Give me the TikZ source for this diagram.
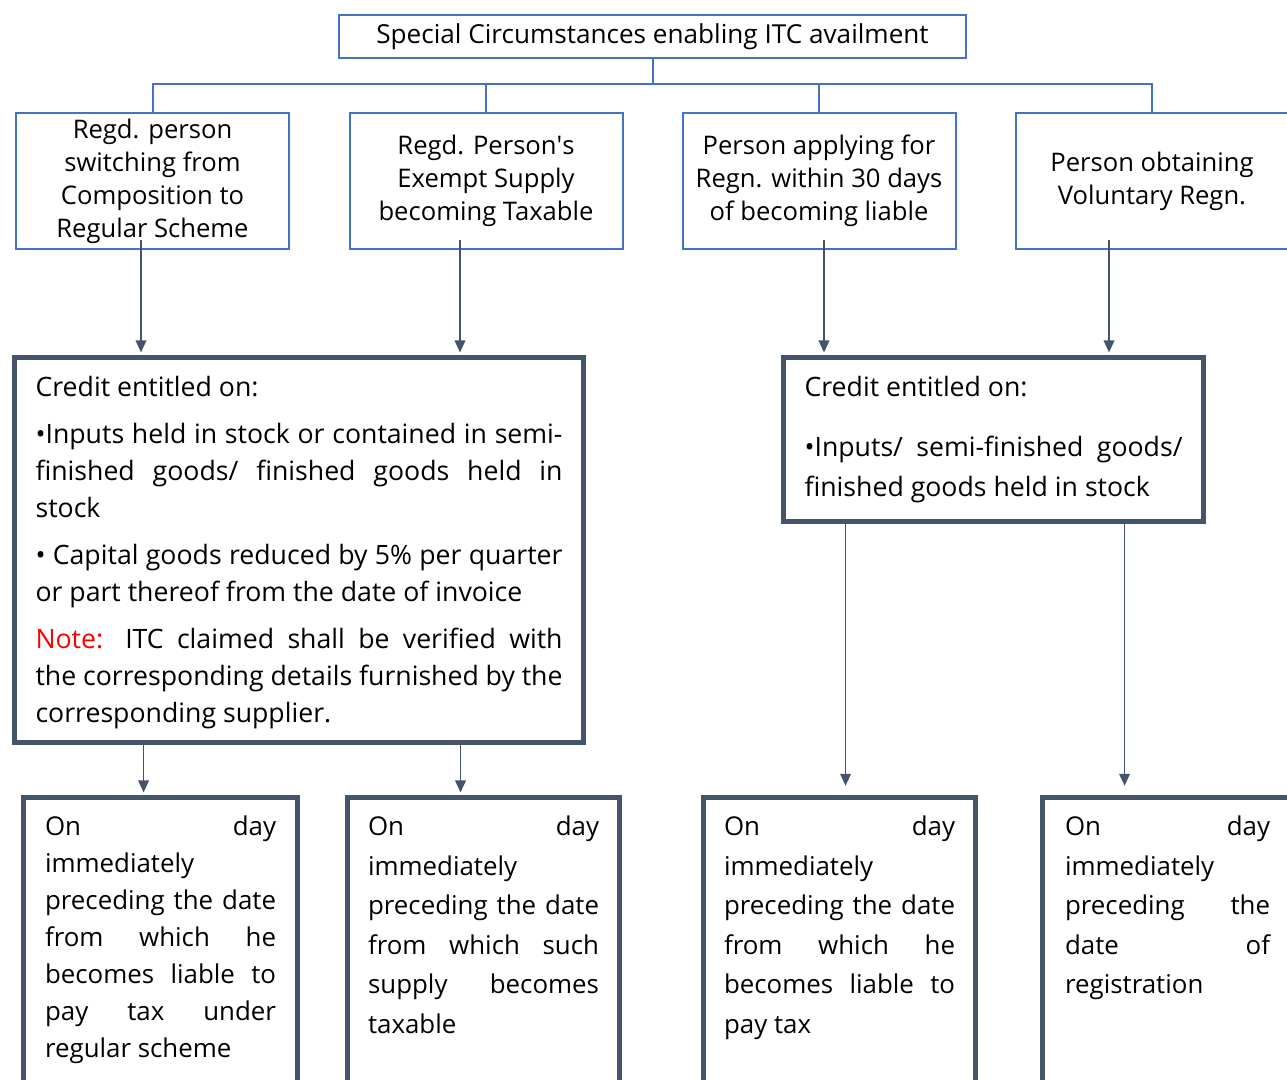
\documentclass[tikz,border=0pt]{standalone}
\usepackage{fontspec}
\setmainfont{Open Sans}
\usepackage{xcolor}
\usetikzlibrary{arrows.meta}

\definecolor{itcblue}{HTML}{4472C4}
\definecolor{slate}{HTML}{44546A}
% one justified line, spread to the full width
\newcommand{\jline}[1]{\makebox[\linewidth][s]{#1}}
% text block of fixed size, set from the top
\newcommand{\topalign}[3]{\parbox[c][#2][t]{#1}{#3}}

\tikzset{
  headbox/.style={draw=itcblue, line width=1.5pt, minimum width=470.25pt, minimum height=32.25pt,
    inner sep=0pt, font=\fontsize{19.6}{22}\selectfont},
  casebox/.style={draw=itcblue, line width=1.5pt, minimum width=204.75pt, minimum height=102pt,
    inner sep=0pt, align=center, font=\fontsize{19.2}{24.75}\selectfont},
  creditbox/.style={draw=slate, line width=3.8pt, anchor=north west, inner xsep=15.75pt,
    inner ysep=14pt, font=\fontsize{20}{27.75}\selectfont},
  daybox/.style={draw=slate, line width=3.8pt, anchor=north west, inner xsep=15.375pt,
    inner ysep=14pt, font=\fontsize{19.4}{29.6}\selectfont},
  tree/.style={draw=itcblue, line width=1.5pt},
  arr/.style={draw=slate, line width=1.1pt, shorten >=1.9pt, -{Triangle[width=8pt,length=9pt]}}
}

\begin{document}
\begin{tikzpicture}[x=0.75pt,y=-0.75pt]
  % page frame
  \useasboundingbox (0,0) rectangle (1287,1080);
  \clip (0,0) rectangle (1287,1080);

  % heading
  \node[headbox] (itc) at (652.5,36.5) {Special Circumstances enabling ITC availment};

  % the four cases
  \node[casebox] (rega) at (152.5,181) {Regd. person\\switching from\\Composition to\\Regular Scheme};
  \node[casebox] (regb) at (486,181) {Regd. Person\textquotesingle s\\Exempt Supply\\becoming Taxable};
  \node[casebox] (regc) at (819,181) {Person applying for\\Regn. within 30 days\\of becoming liable};
  \node[casebox] (regd) at (1152,181) {Person obtaining\\Voluntary Regn.};

  % tree lines
  \coordinate (bus) at (652.5,84);
  \draw[tree] (itc.south) -- (bus);
  \draw[tree] (rega.north) |- (bus) -| (regd.north);
  \draw[tree] (regb.north) -- (regb.north |- bus);
  \draw[tree] (regc.north) -- (regc.north |- bus);

  % credit boxes
  \node[creditbox] (credA) at (12,355) {\topalign{395.25pt}{260.75pt}{%
    Credit entitled on:\\[7.5pt]
    \jline{•Inputs held in stock or contained in semi-}\\
    \jline{finished goods/ finished goods held in}\\
    stock\\[7.5pt]
    \jline{• Capital goods reduced by 5\% per quarter}\\
    or part thereof from the date of invoice\\[7.5pt]
    \jline{\textcolor{red}{Note:} ITC claimed shall be verified with}\\
    \jline{the corresponding details furnished by the}\\
    corresponding supplier.}};
  \node[creditbox, font=\fontsize{20}{30}\selectfont] (credB) at (781,355) {\topalign{283.5pt}{95pt}{%
    Credit entitled on:\\[15pt]
    \jline{•Inputs/ semi-finished goods/}\\
    finished goods held in stock}};

  % arrows into the credit boxes
  \coordinate (a1) at ([xshift=-8.625pt,yshift=7.5pt]rega.south);
  \coordinate (a2) at ([xshift=-19.5pt,yshift=7.5pt]regb.south);
  \coordinate (a3) at ([xshift=3.75pt,yshift=7.5pt]regc.south);
  \coordinate (a4) at ([xshift=-32.25pt,yshift=7.5pt]regd.south);
  \draw[arr] (a1) -- (a1 |- credA.north);
  \draw[arr] (a2) -- (a2 |- credA.north);
  \draw[arr] (a3) -- (a3 |- credB.north);
  \draw[arr] (a4) -- (a4 |- credB.north);

  % dates of availment
  \node[daybox, inner xsep=16.125pt, font=\fontsize{19.4}{27.75}\selectfont] (dayA) at (21,795) {\topalign{173.25pt}{215.75pt}{%
    \jline{On day}\\
    immediately\\
    \jline{preceding the date}\\
    \jline{from which he}\\
    \jline{becomes liable to}\\
    \jline{pay tax under}\\
    regular scheme}};
  \node[daybox] (dayB) at (345,795) {\topalign{173.25pt}{215.75pt}{%
    \jline{On day}\\
    immediately\\
    \jline{preceding the date}\\
    \jline{from which such}\\
    \jline{supply becomes}\\
    taxable}};
  \node[daybox] (dayC) at (701,795) {\topalign{173.25pt}{215.75pt}{%
    \jline{On day}\\
    immediately\\
    \jline{preceding the date}\\
    \jline{from which he}\\
    \jline{becomes liable to}\\
    pay tax}};
  \node[daybox, inner xsep=16.875pt] (dayD) at (1040,795) {\topalign{153.75pt}{215.75pt}{%
    \jline{On day}\\
    immediately\\
    \jline{preceding the}\\
    \jline{date of}\\
    registration}};

  % arrows into the day boxes
  \coordinate (b1) at ([xshift=-116.6pt]credA.south);
  \coordinate (b2) at ([xshift=121.1pt]credA.south);
  \coordinate (b3) at ([xshift=-111pt]credB.south);
  \coordinate (b4) at ([xshift=98.25pt]credB.south);
  \draw[arr] (b1) -- (b1 |- dayA.north);
  \draw[arr] (b2) -- (b2 |- dayB.north);
  \draw[arr] (b3) -- ([yshift=5pt]b3 |- dayC.north);
  \draw[arr] (b4) -- ([yshift=5pt]b4 |- dayD.north);
\end{tikzpicture}
\end{document}
